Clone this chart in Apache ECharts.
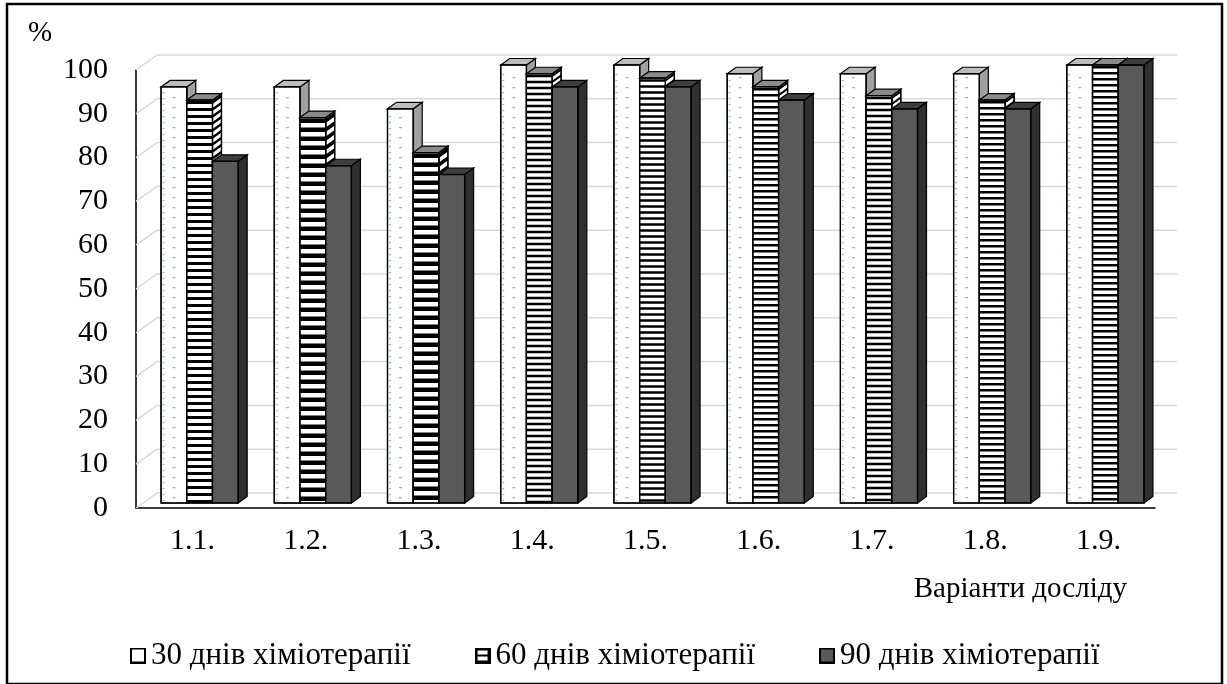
<!DOCTYPE html>
<html><head><meta charset="utf-8">
<script src="https://cdn.jsdelivr.net/npm/echarts@6/dist/echarts.min.js"></script>
<style>html,body{margin:0;padding:0;background:#fff}#c{width:1227px;height:684px}</style>
</head><body><div id="c"></div>
<script>
// ---------- data ----------
const categories = ['1.1.', '1.2.', '1.3.', '1.4.', '1.5.', '1.6.', '1.7.', '1.8.', '1.9.'];
const seriesNames = ['30 днів хіміотерапії', '60 днів хіміотерапії', '90 днів хіміотерапії'];
const days30 = [95, 95, 90, 100, 100, 98, 98, 98, 100];
const days60 = [92, 88, 80, 98, 97, 95, 93, 92, 100];
const days90 = [78, 77, 75, 95, 95, 92, 90, 90, 100];
const yTicks = [0, 10, 20, 30, 40, 50, 60, 70, 80, 90, 100];
const yAxisName = '%';
const xAxisName = 'Варіанти досліду';

// ---------- style constants ----------
const FONT = "'Liberation Serif', 'Times New Roman', serif";
const DX0 = 7, DY0 = -5;        // bars sit slightly behind the front plane
const DDX = 9, DDY = -6.5;      // bar depth
const WX = 21, WY = -15;        // wall depth
const BAR_FRAC = 0.227;
const STRIPE_PERIOD = [7, 9, 9, 6, 6, 6, 6, 6, 6];
const STRIPE_BLACK = [3, 4.5, 4.5, 2.5, 2.5, 2.5, 2.5, 2.5, 2.5];
const FACE = [
  { front: '#ffffff', top: '#bcbcbc', side: '#a0a0a0' },
  { front: '#ffffff', top: '#8a8a8a', side: '#ffffff' },
  { front: '#595959', top: '#3e3e3e', side: '#303030' }
];

function poly(points, fill, lw) {
  return { type: 'polygon', shape: { points: points }, style: { fill: fill, stroke: '#000', lineWidth: lw == null ? 1.2 : lw } };
}
function outline(points) {
  return { type: 'polygon', shape: { points: points }, style: { fill: null, stroke: '#000', lineWidth: 1.3 } };
}
function f(n) { return n.toFixed(2); }

function renderBar(s) {
  return function (params, api) {
    const ci = api.value(0), v = api.value(1);
    const p0 = api.coord([ci, 0]), p1 = api.coord([ci, v]);
    const cw = api.size([1, 0])[0];
    const bw = cw * BAR_FRAC;
    const xl = p0[0] + (s - 1) * bw - bw / 2 + DX0, xr = xl + bw;
    const yb = p0[1] + DY0, yt = p1[1] + DY0;
    const front = [[xl, yt], [xr, yt], [xr, yb], [xl, yb]];
    const top = [[xl, yt], [xl + DDX, yt + DDY], [xr + DDX, yt + DDY], [xr, yt]];
    const side = [[xr, yt], [xr + DDX, yt + DDY], [xr + DDX, yb + DDY], [xr, yb]];
    const st = FACE[s];
    const ch = [];
    ch.push(poly(side, st.side));
    if (s === 1) {
      const per = STRIPE_PERIOD[ci], bh = STRIPE_BLACK[ci];
      let d = '';
      for (let y = yt + 1; y < yb; y += per) {
        const h = Math.min(bh, yb - y);
        d += 'M' + f(xr) + ' ' + f(y) + 'L' + f(xr + DDX) + ' ' + f(y + DDY) + 'L' + f(xr + DDX) + ' ' + f(y + DDY + h) + 'L' + f(xr) + ' ' + f(y + h) + 'Z';
      }
      ch.push({ type: 'path', shape: { pathData: d }, style: { fill: '#000' } });
      ch.push(outline(side));
    }
    ch.push(poly(top, st.top));
    ch.push(poly(front, st.front));
    if (s === 0) {
      let d = '';
      const xm = xl + bw * 0.45;
      for (let y = yb - 6; y > yt + 3; y -= 10) {
        d += 'M' + f(xm) + ' ' + f(y) + 'h3v1.2h-3Z';
      }
      for (let y = yb - 3; y > yt + 3; y -= 6) {
        d += 'M' + f(xl + 1.5) + ' ' + f(y) + 'h2v1.2h-2Z';
      }
      ch.push({ type: 'path', shape: { pathData: d }, style: { fill: '#9fb3d4' } });
    }
    if (s === 1) {
      const per = STRIPE_PERIOD[ci], bh = STRIPE_BLACK[ci];
      let d = '';
      for (let y = yt + 1; y < yb; y += per) {
        const h = Math.min(bh, yb - y);
        d += 'M' + f(xl) + ' ' + f(y) + 'H' + f(xr) + 'V' + f(y + h) + 'H' + f(xl) + 'Z';
      }
      ch.push({ type: 'path', shape: { pathData: d }, style: { fill: '#000' } });
    }
    ch.push(outline(front));
    return { type: 'group', children: ch };
  };
}

function renderWall(params, api) {
  const cs = params.coordSys;
  const y = api.coord([0, api.value(1)])[1];
  const x0 = cs.x, x1 = cs.x + cs.width;
  return {
    type: 'group',
    children: [
      { type: 'line', shape: { x1: x0, y1: y, x2: x0 + WX, y2: y + WY }, style: { stroke: '#d9d9d9', lineWidth: 1.5 } },
      { type: 'line', shape: { x1: x0 + WX, y1: y + WY, x2: x1 + WX + 1, y2: y + WY }, style: { stroke: '#d9d9d9', lineWidth: 1.5 } }
    ]
  };
}

function makeIcon(kind) {
  const c = document.createElement('canvas');
  c.width = 16; c.height = 16;
  const g = c.getContext('2d');
  if (kind === 0) {
    g.fillStyle = '#fff'; g.fillRect(0, 0, 16, 16);
    g.strokeStyle = '#000'; g.lineWidth = 2; g.strokeRect(1, 1, 14, 14);
  } else if (kind === 1) {
    g.fillStyle = '#000'; g.fillRect(0, 0, 16, 16);
    g.fillStyle = '#fff'; g.fillRect(3, 3, 10, 4); g.fillRect(3, 9, 10, 4);
  } else {
    g.fillStyle = '#595959'; g.fillRect(0, 0, 16, 16);
    g.strokeStyle = '#000'; g.lineWidth = 2; g.strokeRect(1, 1, 14, 14);
  }
  return 'image://' + c.toDataURL();
}

const allSeries = [days30, days60, days90];
const chart = echarts.init(document.getElementById('c'), null, { renderer: 'canvas' });

const option = {
  backgroundColor: '#fff',
  animation: false,
  textStyle: { fontFamily: FONT },
  grid: { left: 136, right: 72, top: 70, bottom: 176, containLabel: false },
  xAxis: {
    type: 'category',
    data: categories,
    boundaryGap: true,
    axisLine: { show: true, lineStyle: { color: '#000', width: 1.6 } },
    axisTick: { show: false },
    axisLabel: { fontFamily: FONT, fontSize: 30, color: '#000', margin: 18 },
    splitLine: { show: false }
  },
  yAxis: {
    type: 'value',
    min: 0, max: 100, interval: 10,
    axisLine: { show: true, lineStyle: { color: '#000', width: 1.6 } },
    axisTick: { show: false },
    axisLabel: { fontFamily: FONT, fontSize: 30, color: '#000', margin: 28 },
    splitLine: { show: false }
  },
  legend: {
    left: 125, top: 635,
    itemWidth: 16, itemHeight: 16, itemGap: 64,
    textStyle: { fontFamily: FONT, fontSize: 31, color: '#000' },
    data: seriesNames.map((n, i) => ({ name: n, icon: makeIcon(i) })),
    selectedMode: false
  },
  graphic: [
    { type: 'rect', shape: { x: 7, y: 4, width: 1215, height: 680 }, style: { fill: null, stroke: '#000', lineWidth: 2.5 }, z: 100 },
    { type: 'text', left: 28, top: 19, style: { text: yAxisName, font: '29px ' + FONT, fill: '#000' } },
    { type: 'text', right: 100, top: 575, style: { text: xAxisName, font: '29px ' + FONT, fill: '#000' } }
  ],
  series: [
    {
      type: 'custom', name: 'walls', silent: true, z: 1,
      renderItem: renderWall,
      data: yTicks.map(v => [0, v]),
      encode: { x: 0, y: 1 }
    }
  ].concat(allSeries.map((arr, s) => ({
    type: 'custom', name: seriesNames[s], z: 2,
    renderItem: renderBar(s),
    data: arr.map((v, i) => [i, v]),
    encode: { x: 0, y: 1 }
  })))
};
chart.setOption(option);
</script>
</body></html>
